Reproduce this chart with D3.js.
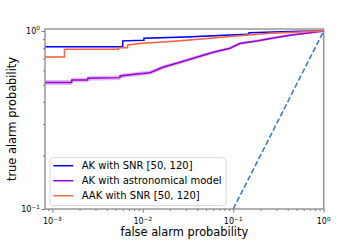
<!DOCTYPE html>
<html>
<head>
<meta charset="utf-8">
<script src="https://cdn.jsdelivr.net/npm/d3@7"></script>
<style>
  body { margin: 0; background: #fff; }
  text { font-family: "DejaVu Sans", sans-serif; fill: #000; }
</style>
</head>
<body>
<div id="chart"></div>
<script>
// ROC data: [false alarm prob, true alarm prob]
const akSnr = [[8.3e-4,0.816],[0.006,0.816],[0.006,0.88],[0.0103,0.887],[0.0103,0.91],[0.03,0.925],
  [0.092,0.948],[0.145,0.958],[0.15,0.978],[0.54,0.995],[1,1]];
const akAstro = [[8.3e-4,0.514],[0.00164,0.514],[0.00164,0.531],[0.00246,0.531],[0.00246,0.542],
  [0.0056,0.547],[0.0056,0.559],[0.0086,0.573],[0.012,0.583],[0.0167,0.625],[0.0258,0.667],
  [0.0394,0.712],[0.06,0.759],[0.092,0.80],[0.118,0.85],[0.189,0.882],[0.288,0.917],[0.442,0.95],[1,1]];
const aakSnr = [[8.3e-4,0.714],[0.00136,0.714],[0.00136,0.789],[0.0054,0.789],[0.0054,0.806],
  [0.0068,0.806],[0.0068,0.834],[0.0093,0.85],[0.026,0.88],[0.092,0.93],[0.25,0.972],[1,1]];
const chance = [[0.1,0.1],[1,1]];
// half width of the shaded uncertainty bands
const bandAkSnr = 0.007, bandAkAstro = 0.016, bandAakSnr = 0.009;

const seriesNames = ["AK with SNR [50, 120]", "AK with astronomical model", "AAK with SNR [50, 120]"];
const xTicks = [1e-3, 1e-2, 1e-1, 1];
const xTickExp = ["\u22123", "\u22122", "\u22121", "0"];
const yTicks = [0.1, 1];
const yTickExp = ["\u22121", "0"];

const W = 360, H = 240;
const m = {left: 45, right: 36.3, top: 29, bottom: 31};

const svg = d3.select("#chart").append("svg")
    .attr("width", W).attr("height", H);

const x = d3.scaleLog().domain([8.3e-4, 1]).range([m.left, W - m.right]);
const y = d3.scaleLog().domain([0.1, 1.026]).range([H - m.bottom, m.top]);

svg.append("defs").append("clipPath").attr("id", "clip")
  .append("rect").attr("x", m.left).attr("y", m.top)
  .attr("width", W - m.left - m.right).attr("height", H - m.top - m.bottom);

const plot = svg.append("g").attr("clip-path", "url(#clip)");

const line = d3.line().x(d => x(d[0])).y(d => y(d[1]));
const band = (w) => d3.area().x(d => x(d[0]))
    .y0(d => y(Math.max(d[1] - w, 0.1))).y1(d => y(Math.min(d[1] + w, 1)));

const series = [
  {data: akSnr, color: "#0000ff", w: bandAkSnr},
  {data: akAstro, color: "#9400d3", w: bandAkAstro},
  {data: aakSnr, color: "#ff6347", w: bandAakSnr}
];

series.forEach(s => {
  plot.append("path").datum(s.data).attr("d", band(s.w))
    .attr("fill", s.color).attr("opacity", 0.28);
});
series.forEach(s => {
  plot.append("path").datum(s.data).attr("d", line)
    .attr("fill", "none").attr("stroke", s.color).attr("stroke-width", 1.5);
});

plot.append("path").datum(chance).attr("d", line)
  .attr("fill", "none").attr("stroke", "#3a7fc1").attr("stroke-width", 1.6)
  .attr("stroke-dasharray", "5.5,2.5");

// axes
const xAxis = d3.axisBottom(x).tickValues(xTicks).tickSize(3.5).tickFormat("");
svg.append("g").attr("transform", `translate(0,${H - m.bottom})`).call(xAxis);
const xMinor = [];
[1e-4, 1e-3, 1e-2, 1e-1].forEach(d => { for (let k = 2; k < 10; k++) xMinor.push(d * k); });
svg.append("g").attr("transform", `translate(0,${H - m.bottom})`)
  .call(d3.axisBottom(x).tickValues(xMinor.filter(v => v >= 8.3e-4 && v < 1)).tickSize(2).tickFormat(""));

const yAxis = d3.axisLeft(y).tickValues(yTicks).tickSize(3.5).tickFormat("");
svg.append("g").attr("transform", `translate(${m.left},0)`).call(yAxis);
const yMinor = [0.2,0.3,0.4,0.5,0.6,0.7,0.8,0.9];
svg.append("g").attr("transform", `translate(${m.left},0)`)
  .call(d3.axisLeft(y).tickValues(yMinor).tickSize(2).tickFormat(""));

svg.selectAll(".domain").remove();
svg.selectAll(".tick line").attr("stroke", "#555").attr("stroke-width", 0.8);

// tick labels as 10^n
xTicks.forEach((v, i) => {
  const t = svg.append("text").attr("x", x(v)).attr("y", H - m.bottom + 15)
    .attr("text-anchor", "middle").attr("font-size", 8);
  t.append("tspan").text("10");
  t.append("tspan").attr("dy", -3.5).attr("font-size", 5.8).text(xTickExp[i]);
});
yTicks.forEach((v, i) => {
  const t = svg.append("text").attr("x", m.left - 5).attr("y", y(v) + 3)
    .attr("text-anchor", "end").attr("font-size", 8);
  t.append("tspan").text("10");
  t.append("tspan").attr("dy", -3.5).attr("font-size", 5.8).text(yTickExp[i]);
});

// frame
svg.append("rect").attr("x", m.left).attr("y", m.top)
  .attr("width", W - m.left - m.right).attr("height", H - m.top - m.bottom)
  .attr("fill", "none").attr("stroke", "#888").attr("stroke-width", 1.3);

svg.append("text").attr("x", (m.left + W - m.right) / 2).attr("y", 236)
  .attr("text-anchor", "middle").attr("font-size", 11.4).text("false alarm probability");
svg.append("text").attr("transform", `translate(16,${(m.top + H - m.bottom) / 2}) rotate(-90)`)
  .attr("text-anchor", "middle").attr("font-size", 11.4).text("true alarm probability");

// legend
const lg = svg.append("g");
lg.append("rect").attr("x", 50).attr("y", 157.7).attr("width", 176).attr("height", 47.8)
  .attr("rx", 2.5).attr("fill", "#fff").attr("fill-opacity", 0.8)
  .attr("stroke", "#d0d0d0").attr("stroke-width", 0.8);
seriesNames.forEach((name, i) => {
  const yy = 165.7 + i * 15;
  lg.append("line").attr("x1", 53.3).attr("x2", 73.3).attr("y1", yy).attr("y2", yy)
    .attr("stroke", series[i].color).attr("stroke-width", 1.5);
  lg.append("text").attr("x", 81.7).attr("y", yy + 3.6).attr("font-size", 10).text(name);
});
</script>
</body>
</html>
